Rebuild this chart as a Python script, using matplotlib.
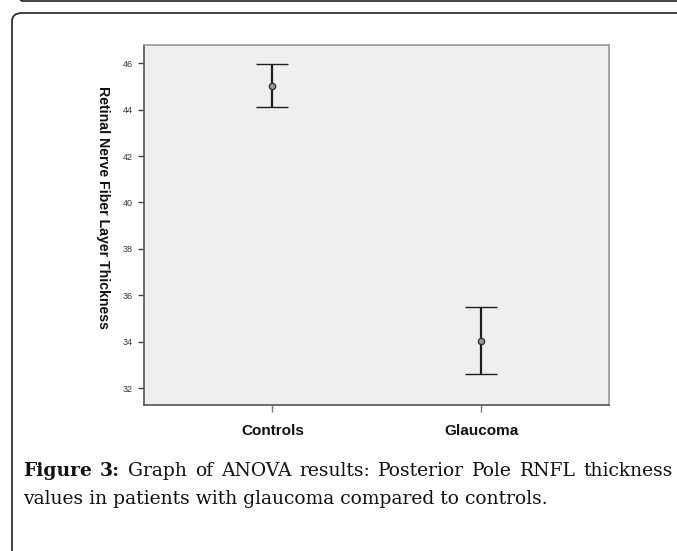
import matplotlib
matplotlib.use('Agg')
import matplotlib.pyplot as plt
from matplotlib.patches import FancyBboxPatch

# Datos del gráfico (medias e intervalos)
groups = ['Controls', 'Glaucoma']
means = [45.02, 34.04]
lower = [44.12, 32.59]
upper = [45.97, 35.50]
yticks = [32, 34, 36, 38, 40, 42, 44, 46]

W, H = 677, 551
fig = plt.figure(figsize=(W / 100, H / 100), dpi=100)
plt.rcParams['font.family'] = ['Liberation Sans', 'DejaVu Sans']

# Marcos redondeados de la página
prev_box = FancyBboxPatch((12 / W, 1.0 - 1 / H), 2.0, 0.3,
                          boxstyle='round,pad=0,rounding_size=0.015',
                          transform=fig.transFigure, fill=False,
                          edgecolor='#222222', linewidth=1.2)
box = FancyBboxPatch((12 / W, -0.3), 2.0, 1.3 - 13 / H,
                     boxstyle='round,pad=0,rounding_size=0.015',
                     transform=fig.transFigure, fill=False,
                     edgecolor='#222222', linewidth=1.2)
fig.add_artist(prev_box)
fig.add_artist(box)

# Ejes
ax = fig.add_axes([144 / W, 1 - 405 / H, (609 - 144) / W, (405 - 45) / H])
ax.set_facecolor('#efefef')
x = list(range(1, len(groups) + 1))
yerr = [[m - l for m, l in zip(means, lower)], [u - m for m, u in zip(means, upper)]]
ax.errorbar(x, means, yerr=yerr, fmt='o', color='#1e1e1e', ecolor='#1e1e1e',
            elinewidth=1.6, capsize=11.5, capthick=1.6,
            markersize=4.5, markerfacecolor='#9a9a9a', markeredgecolor='#333333',
            markeredgewidth=1.0)

ax.set_xlim(0.385, 2.613)
ax.set_ylim(31.27, 46.79)
ax.set_yticks(yticks)
ax.set_yticklabels([str(t) for t in yticks], fontsize=6.5, color='#333333')
ax.set_xticks(x)
ax.set_xticklabels(groups, fontsize=11, fontweight='bold', color='#111111')
ax.tick_params(axis='y', length=4.3, width=1.0, color='#444444', pad=4)
ax.tick_params(axis='x', length=5, width=1.0, color='#777777', pad=9)

for side in ['left', 'bottom']:
    ax.spines[side].set_color('#555555')
    ax.spines[side].set_linewidth(1.2)
for side in ['top', 'right']:
    ax.spines[side].set_color('#999999')
    ax.spines[side].set_linewidth(1.2)

fig.text(103 / W, 1 - 208 / H, 'Retinal Nerve Fiber Layer Thickness',
         rotation=270, ha='center', va='center', fontsize=10.2,
         fontweight='bold', color='#111111')

# Pie de figura (primera línea justificada)
serif = ['DejaVu Serif']
cap_size = 13.5
left_px, right_px = 23, 673
line1 = [('Figure', 'bold'), ('3:', 'bold'), ('Graph', 'normal'), ('of', 'normal'),
         ('ANOVA', 'normal'), ('results:', 'normal'), ('Posterior', 'normal'),
         ('Pole', 'normal'), ('RNFL', 'normal'), ('thickness', 'normal')]
renderer = fig.canvas.get_renderer()
words = []
for w, wt in line1:
    t = fig.text(0, 1 - 476 / H, w, fontsize=cap_size, fontweight=wt,
                 family=serif, ha='left', va='baseline', color='#111111')
    words.append(t)
widths = [t.get_window_extent(renderer).width for t in words]
gap = (right_px - left_px - sum(widths)) / (len(words) - 1)
xpos = left_px
for t, wd in zip(words, widths):
    t.set_x(xpos / W)
    xpos += wd + gap

fig.text(left_px / W, 1 - 504 / H,
         'values in patients with glaucoma compared to controls.',
         fontsize=cap_size, family=serif, ha='left', va='baseline', color='#111111')

fig.savefig('out.png', dpi=100, facecolor='white')
